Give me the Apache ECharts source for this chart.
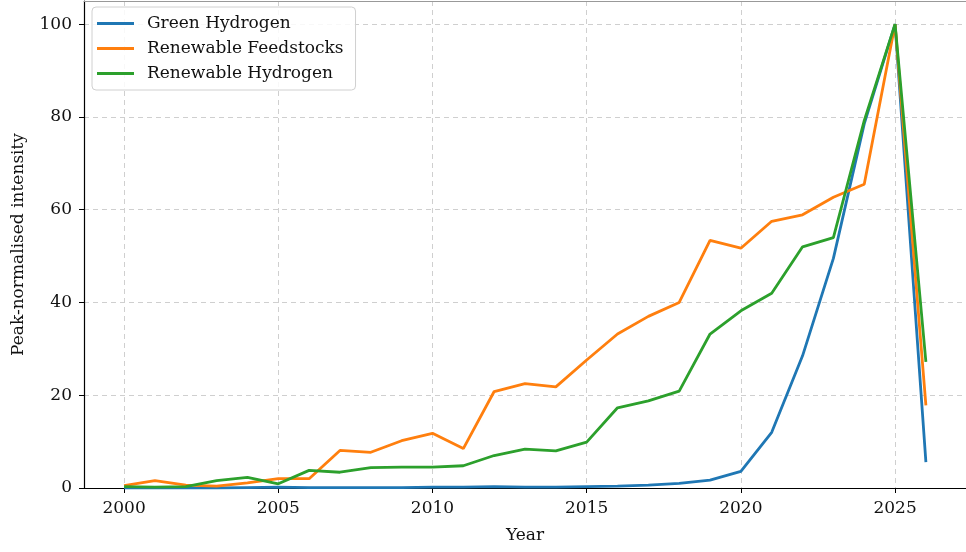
<!DOCTYPE html>
<html>
<head>
<meta charset="utf-8">
<script src="https://cdn.jsdelivr.net/npm/echarts@6/dist/echarts.min.js"></script>
<style>html,body{margin:0;padding:0;background:#fff}#c{width:966px;height:552px}</style>
</head>
<body>
<div id="c"></div>
<script>
var years = [2000,2001,2002,2003,2004,2005,2006,2007,2008,2009,2010,2011,2012,2013,2014,2015,2016,2017,2018,2019,2020,2021,2022,2023,2024,2025,2026];
var greenHydrogen =       [0.0,0.0,0.0,0.0,0.1,0.2,0.1,0.1,0.1,0.1,0.2,0.2,0.3,0.2,0.2,0.3,0.4,0.6,1.0,1.7,3.6,12.0,28.5,49.5,78.5,100,5.6];
var renewableFeedstocks = [0.5,1.6,0.6,0.4,1.1,2.0,2.0,8.1,7.7,10.2,11.8,8.5,20.8,22.5,21.8,27.6,33.2,37.0,40.0,53.4,51.7,57.5,58.9,62.7,65.5,100,17.8];
var renewableHydrogen =   [0.3,0.2,0.3,1.6,2.3,0.9,3.8,3.4,4.4,4.5,4.5,4.8,7.0,8.4,8.0,9.9,17.3,18.8,20.9,33.2,38.2,42.0,52.0,54.0,79.2,100,27.2];
var xTicks = [2000,2005,2010,2015,2020,2025];
var yTicks = [0,20,40,60,80,100];

function pairs(v){ return years.map(function(y,i){ return [y, v[i]]; }); }
var font = '"DejaVu Serif", serif';
var txt = '#111';
var chart = echarts.init(document.getElementById('c'), null, {renderer:'canvas'});
chart.setOption({
  backgroundColor:'#fff',
  animation:false,
  grid:{left:84, top:1, width:886, height:487},
  legend:{
    orient:'vertical', left:92, top:7,
    padding:[8,12,8,5], itemGap:8,
    backgroundColor:'rgba(255,255,255,0.85)', borderColor:'#d0d0d0', borderWidth:1, borderRadius:4,
    icon:'rect', itemWidth:37, itemHeight:3,
    textStyle:{fontFamily:font, fontSize:17, color:txt, lineHeight:17, padding:[0,0,0,8]},
    data:['Green Hydrogen','Renewable Feedstocks','Renewable Hydrogen']
  },
  xAxis:[{
    type:'value', min:1998.7, max:2027.3,
    name:'Year', nameLocation:'middle', nameGap:39,
    nameTextStyle:{fontFamily:font, fontSize:17, color:txt},
    axisLine:{show:true, lineStyle:{color:'#000', width:1.2}},
    axisTick:{show:true, length:5, inside:false, customValues:xTicks, lineStyle:{color:'#000'}},
    axisLabel:{customValues:xTicks, margin:12, fontFamily:font, fontSize:17, color:txt, formatter:function(v){return String(v);}},
    splitLine:{show:true, lineStyle:{color:'#cfcfcf', type:[5,4], width:1}}
  },{
    type:'value', position:'top', min:1998.7, max:2027.3,
    axisLine:{show:true, lineStyle:{color:'#999', width:1}},
    axisTick:{show:false}, axisLabel:{show:false}, splitLine:{show:false}
  }],
  yAxis:{
    type:'value', min:0, max:105,
    name:'Peak-normalised intensity', nameLocation:'middle', nameGap:57,
    nameTextStyle:{fontFamily:font, fontSize:17, color:txt},
    axisLine:{show:true, lineStyle:{color:'#000', width:1.2}},
    axisTick:{show:true, length:5, customValues:yTicks, lineStyle:{color:'#000'}},
    axisLabel:{customValues:yTicks, margin:12, fontFamily:font, fontSize:17, color:txt},
    splitLine:{show:true, lineStyle:{color:'#cfcfcf', type:[5,4], width:1}}
  },
  series:[
    {name:'Green Hydrogen', type:'line', data:pairs(greenHydrogen), showSymbol:false, symbol:'none', color:'#1f77b4', lineStyle:{width:2.8, color:'#1f77b4'}, z:3},
    {name:'Renewable Feedstocks', type:'line', data:pairs(renewableFeedstocks), showSymbol:false, symbol:'none', color:'#ff7f0e', lineStyle:{width:2.8, color:'#ff7f0e'}, z:4},
    {name:'Renewable Hydrogen', type:'line', data:pairs(renewableHydrogen), showSymbol:false, symbol:'none', color:'#2ca02c', lineStyle:{width:2.8, color:'#2ca02c'}, z:5}
  ]
});
</script>
</body>
</html>
